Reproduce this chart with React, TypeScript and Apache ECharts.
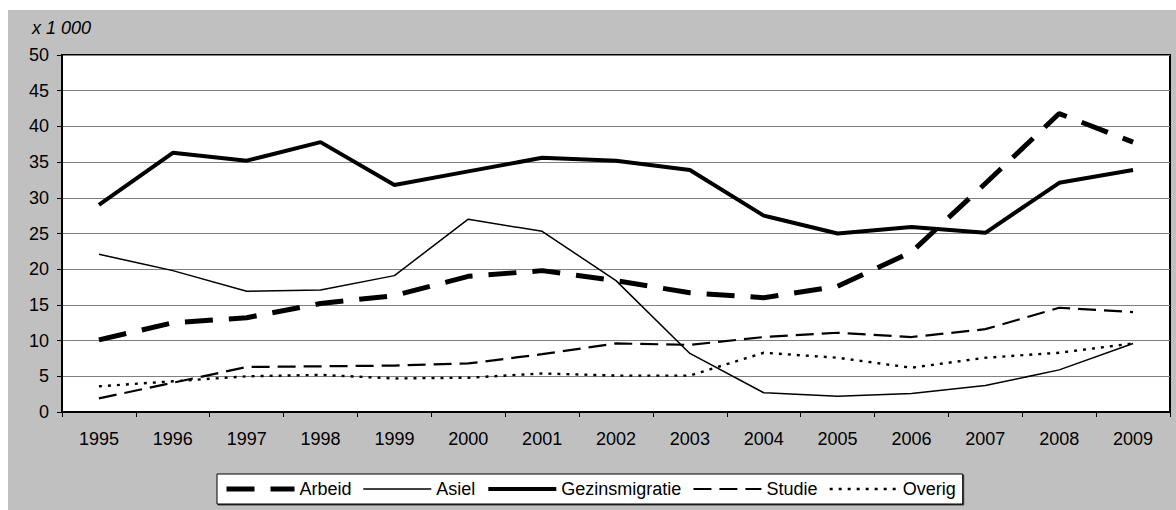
import React, { useEffect, useRef } from "react";
import * as echarts from "echarts";

const years = ["1995","1996","1997","1998","1999","2000","2001","2002","2003","2004","2005","2006","2007","2008","2009"];
const arbeid = [10.1, 12.5, 13.2, 15.2, 16.3, 19.0, 19.8, 18.4, 16.7, 16.0, 17.6, 22.4, 32.0, 41.8, 37.8];
const asiel = [22.1, 19.8, 16.9, 17.1, 19.1, 27.0, 25.3, 18.4, 8.2, 2.7, 2.2, 2.6, 3.7, 5.9, 9.6];
const gezinsmigratie = [29.0, 36.3, 35.2, 37.8, 31.8, 33.7, 35.6, 35.2, 33.9, 27.5, 25.0, 25.9, 25.1, 32.1, 33.9];
const studie = [1.9, 4.1, 6.3, 6.4, 6.5, 6.8, 8.1, 9.6, 9.4, 10.5, 11.1, 10.5, 11.6, 14.6, 14.0];
const overig = [3.6, 4.3, 5.0, 5.2, 4.7, 4.8, 5.4, 5.1, 5.1, 8.3, 7.6, 6.2, 7.6, 8.3, 9.6];
const unitLabel = "x 1 000";

const FONT = "'Liberation Sans', Arial, sans-serif";

const styles: Record<string, { width: number; type: any }> = {
  Arbeid: { width: 5, type: [28, 16] },
  Asiel: { width: 1.5, type: "solid" },
  Gezinsmigratie: { width: 4, type: "solid" },
  Studie: { width: 2.2, type: [18, 8] },
  Overig: { width: 2.4, type: [3, 6] },
};

export default function App() {
  const ref = useRef<HTMLDivElement>(null);
  useEffect(() => {
    if (!ref.current) return;
    const chart = echarts.init(ref.current, null, { renderer: "svg" });
    const mk = (name: string, data: number[]) => ({
      name,
      type: "line",
      data,
      showSymbol: false,
      symbol: "none",
      lineStyle: { color: "#000", width: styles[name].width, type: styles[name].type, cap: "butt" },
      itemStyle: { color: "#000" },
      emphasis: { disabled: true },
    });
    const names = ["Arbeid", "Asiel", "Gezinsmigratie", "Studie", "Overig"];
    chart.setOption({
      animation: false,
      backgroundColor: "#c0c0c0",
      textStyle: { fontFamily: FONT },
      graphic: [
        {
          type: "text",
          left: 24,
          top: 9,
          style: { text: unitLabel, font: `italic 18px ${FONT}`, fill: "#000" },
        },
      ],
      grid: {
        left: 54,
        right: 6,
        top: 45,
        bottom: 98,
        show: true,
        backgroundColor: "#fff",
        borderColor: "#000",
        borderWidth: 2,
      },
      legend: {
        left: 209,
        top: 464,
        padding: [6, 7, 6, 7],
        itemWidth: 68,
        itemHeight: 14,
        itemGap: 11,
        backgroundColor: "#fff",
        borderColor: "#000",
        borderWidth: 1,
        shadowColor: "rgba(0,0,0,0.7)",
        shadowOffsetX: 1,
        shadowOffsetY: 1,
        shadowBlur: 0,
        itemStyle: { opacity: 0 },
        textStyle: { fontSize: 18, color: "#000", fontFamily: FONT },
        data: names.map((n) => ({
          name: n,
          itemStyle: { opacity: 0 },
          lineStyle: { width: styles[n].width, type: styles[n].type, color: "#000" },
        })),
      },
      xAxis: {
        type: "category",
        data: years,
        boundaryGap: true,
        axisLine: { lineStyle: { color: "#000", width: 2 } },
        axisTick: { show: true, length: 5, inside: false, lineStyle: { color: "#000" } },
        axisLabel: { color: "#000", fontSize: 18, margin: 18, fontFamily: FONT },
        splitLine: { show: false },
      },
      yAxis: {
        type: "value",
        min: 0,
        max: 50,
        interval: 5,
        axisLine: { show: true, lineStyle: { color: "#000", width: 2 } },
        axisTick: { show: true, length: 5, lineStyle: { color: "#000" } },
        axisLabel: { color: "#000", fontSize: 18, margin: 13, fontFamily: FONT },
        splitLine: { show: true, lineStyle: { color: "#808080", width: 1 } },
      },
      series: [
        mk("Arbeid", arbeid),
        mk("Asiel", asiel),
        mk("Gezinsmigratie", gezinsmigratie),
        mk("Studie", studie),
        mk("Overig", overig),
      ],
    });
    return () => chart.dispose();
  }, []);
  return (
    <div
      ref={ref}
      style={{ position: "fixed", left: 8, top: 10, width: 1168, height: 500 }}
    />
  );
}
